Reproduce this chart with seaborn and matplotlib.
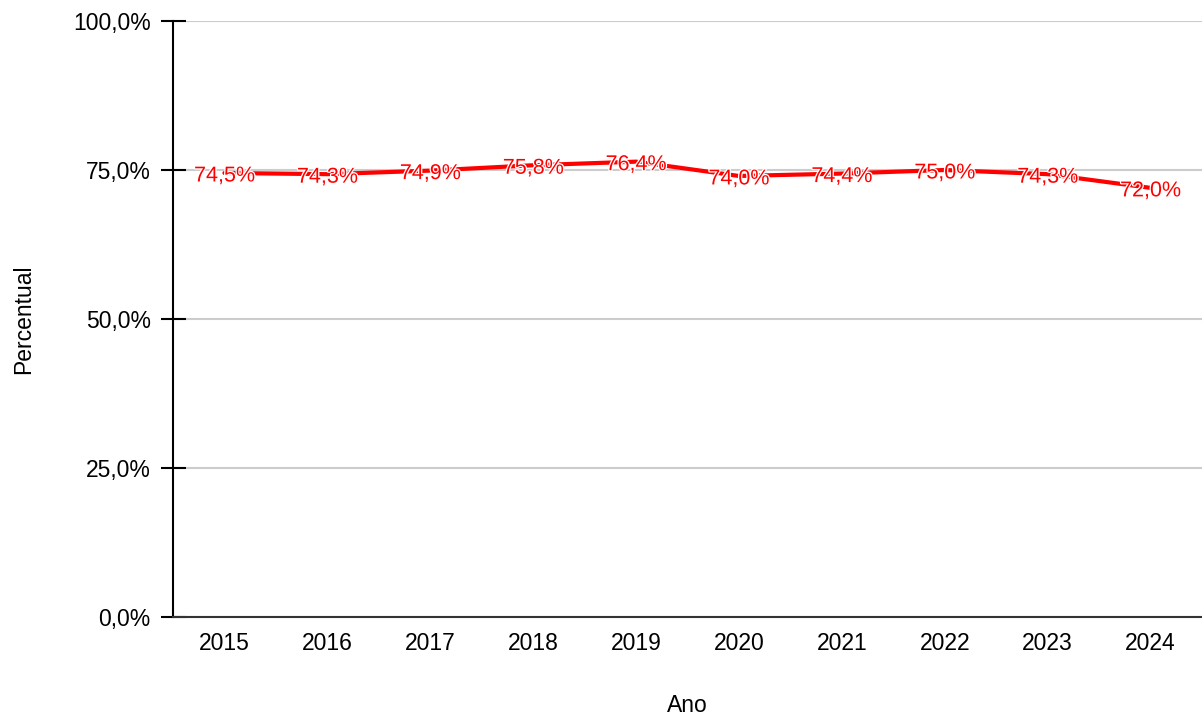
import pandas as pd
import seaborn as sns
import matplotlib.pyplot as plt
import matplotlib.patheffects as pe
import matplotlib.transforms as mtransforms
from matplotlib.ticker import FuncFormatter

# Chart data
anos = ['2015', '2016', '2017', '2018', '2019', '2020', '2021', '2022', '2023', '2024']
percentual = [74.5, 74.3, 74.9, 75.8, 76.4, 74.0, 74.4, 75.0, 74.3, 72.0]

df = pd.DataFrame({'Ano': anos, 'Percentual': percentual})

sns.set_style('white')
plt.rcParams['font.family'] = ['Liberation Sans', 'DejaVu Sans']

fig = plt.figure(figsize=(12.02, 7.17), dpi=100)
ax = fig.add_axes([0.1439, 0.1395, 0.8561, 0.8312])

sns.lineplot(data=df, x='Ano', y='Percentual', ax=ax, color='#ff0000',
             linewidth=3.0, sort=False, zorder=3)

# data labels centred on each point, thin white halo, nudged a little down
shift = mtransforms.offset_copy(ax.transData, fig=fig, x=0, y=-3, units='dots')
for i, v in enumerate(percentual):
    ax.text(i, v, f'{v:.1f}%'.replace('.', ','), ha='center', va='center',
            color='#ff0000', fontsize=15.5, fontweight='normal',
            family=['Liberation Sans', 'DejaVu Sans'],
            zorder=4, transform=shift,
            path_effects=[pe.withStroke(linewidth=1.8, foreground='white')])

ax.set_ylim(0, 100)
ax.set_xlim(-0.5, len(anos) - 0.5)
ax.set_yticks([0, 25, 50, 75, 100])
ax.yaxis.set_major_formatter(FuncFormatter(lambda y, _: f'{y:.1f}%'.replace('.', ',')))
ax.grid(axis='y', color='#cccccc', linewidth=1.5, zorder=0)
ax.set_axisbelow(True)

for s in ['top', 'right']:
    ax.spines[s].set_visible(False)
ax.spines['left'].set_color('black')
ax.spines['left'].set_linewidth(1.5)
ax.spines['bottom'].set_color('#333333')
ax.spines['bottom'].set_linewidth(1.5)

ax.tick_params(axis='y', left=True, direction='inout', length=18, width=1.5,
               color='black', pad=7, labelsize=16.5, labelcolor='black')
ax.tick_params(axis='x', bottom=False, length=0, pad=11, labelsize=16.5,
               labelcolor='black')

ax.set_xlabel('Ano', fontsize=16.5, labelpad=28, color='black')
ax.set_ylabel('Percentual', fontsize=16.5, labelpad=27, color='black')

fig.savefig('out.png', dpi=100)
